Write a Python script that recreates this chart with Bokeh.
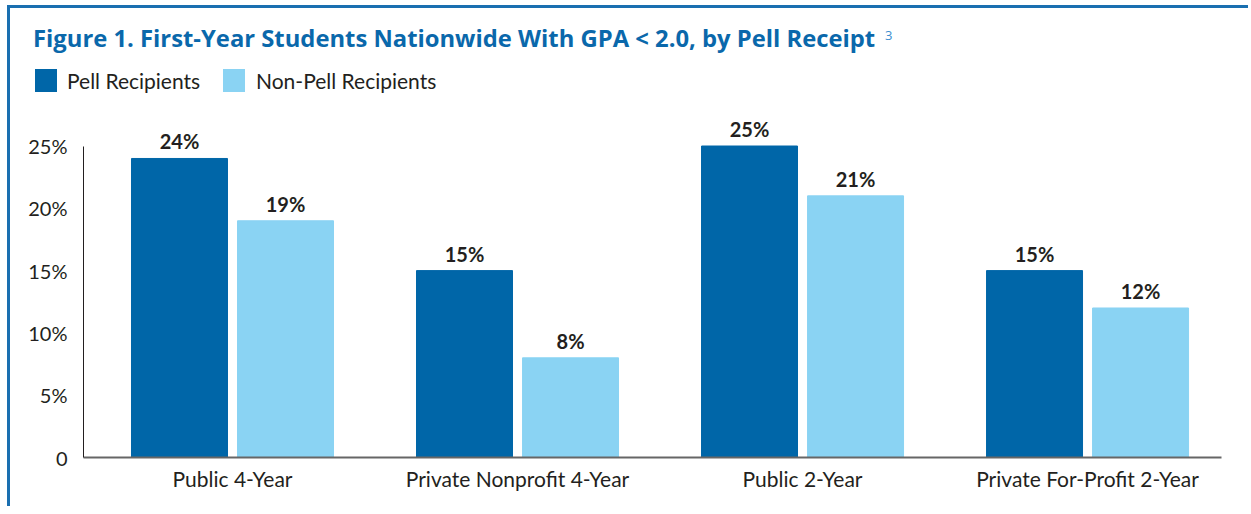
import html
from bokeh.plotting import figure
from bokeh.models import Range1d, FixedTicker, ColumnDataSource, Div
from bokeh.layouts import column
from bokeh.core.properties import value
from bokeh.embed import file_html
from bokeh.resources import INLINE

categories = ["Public 4-Year", "Private Nonprofit 4-Year", "Public 2-Year", "Private For-Profit 2-Year"]
pell = [24, 15, 25, 15]
non_pell = [19, 8, 21, 12]
series_names = ["Pell Recipients", "Non-Pell Recipients"]
y_ticks = [0, 5, 10, 15, 20, 25]
y_tick_labels = ["0", "5%", "10%", "15%", "20%", "25%"]
title_text = "Figure 1. First-Year Students Nationwide With GPA < 2.0, by Pell Receipt"
title_note = "3"

DARK = "#0066a8"
LIGHT = "#8ad3f3"
TXT = "#231f20"
TITLE_C = "#0a68ab"
NOTE_C = "#3d8fd0"
FONT = "Lato"
W = 1238
HH = 92

# ---- header: title + legend (HTML) ----
def span(left, top, txt, font, size, color, weight="normal"):
    return (f'<span style="position:absolute;left:{left}px;top:{top}px;font-family:\'{font}\';'
            f'font-size:{size}px;font-weight:{weight};color:{color};white-space:nowrap;'
            f'line-height:1;">{html.escape(txt)}</span>')

def swatch(left, top, color):
    return (f'<span style="position:absolute;left:{left}px;top:{top}px;width:22px;height:23px;'
            f'background:{color};"></span>')

header_html = (
    f'<div style="position:relative;width:{W}px;height:{HH}px;margin:0;padding:0;">'
    + span(23, 19, title_text, "Open Sans", 23.8, TITLE_C, "bold")
    + span(875, 21, title_note, "Open Sans", 13, NOTE_C)
    + swatch(25, 61, DARK)
    + span(57, 62, series_names[0], FONT, 21, TXT)
    + swatch(213, 61, LIGHT)
    + span(246, 62, series_names[1], FONT, 21, TXT)
    + '</div>'
)
head = Div(text=header_html, width=W, height=HH, margin=0)

# ---- main chart ----
idx = list(range(len(categories)))
off = 0.186
bw = 0.3368

src_p = ColumnDataSource(dict(x=[i - off for i in idx], top=pell, lab=[f"{v}%" for v in pell]))
src_n = ColumnDataSource(dict(x=[i + off for i in idx], top=non_pell, lab=[f"{v}%" for v in non_pell]))

p = figure(width=W, height=406, output_backend="svg", toolbar_location=None, tools="",
           x_range=Range1d(-0.5228, 3.470), y_range=Range1d(0, 27.85),
           min_border_left=73, min_border_right=27, min_border_top=10, min_border_bottom=49,
           margin=0)
p.outline_line_color = None
p.grid.visible = False

r1 = p.vbar(x="x", top="top", width=bw, source=src_p, color=DARK)
r2 = p.vbar(x="x", top="top", width=bw, source=src_n, color=LIGHT)

for s in (src_p, src_n):
    p.text(x="x", y="top", text="lab", source=s, y_offset=-5, text_align="center",
           text_baseline="bottom", text_font=value(FONT), text_font_style="bold",
           text_font_size="20px", text_color=TXT)

p.xaxis.ticker = FixedTicker(ticks=idx)
p.xaxis.major_label_overrides = {i: c for i, c in zip(idx, categories)}
p.xaxis.major_tick_line_color = None
p.xaxis.minor_tick_line_color = None
p.xaxis.axis_line_color = "#666666"
p.xaxis.axis_line_width = 2
p.xaxis.major_label_text_font = FONT
p.xaxis.major_label_text_font_size = "21px"
p.xaxis.major_label_text_color = TXT
p.xaxis.major_label_standoff = 2

p.yaxis.ticker = FixedTicker(ticks=y_ticks)
p.yaxis.major_label_overrides = {t: l for t, l in zip(y_ticks, y_tick_labels)}
p.yaxis.bounds = (0, 25)
p.yaxis.major_tick_line_color = None
p.yaxis.minor_tick_line_color = None
p.yaxis.axis_line_color = TXT
p.yaxis.axis_line_width = 1
p.yaxis.major_label_text_font = FONT
p.yaxis.major_label_text_font_size = "20px"
p.yaxis.major_label_text_color = TXT
p.yaxis.major_label_standoff = 10

layout = column(head, p, spacing=0)
layout.styles = {"border-left": "3px solid #1a6fb0", "border-top": "3px solid #1a6fb0",
                 "margin-left": "7px", "margin-top": "5px"}

open("out.html", "w").write(file_html(layout, INLINE))
